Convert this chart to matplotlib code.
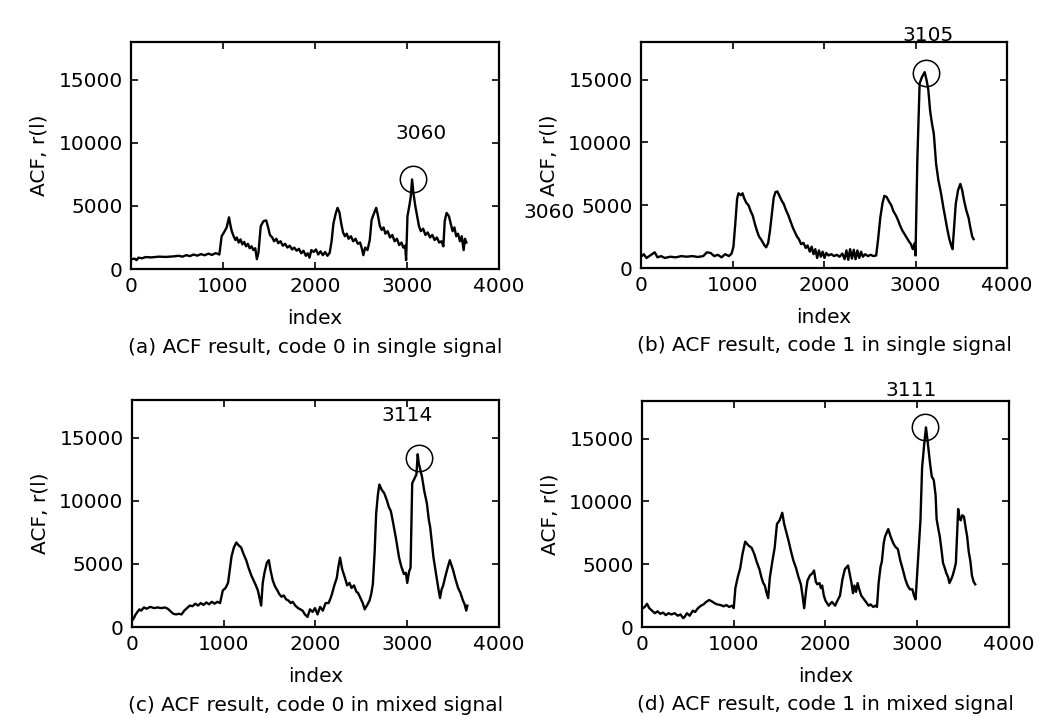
import matplotlib
matplotlib.use("Agg")
import matplotlib.pyplot as plt

# values: (index, ACF)
a_data = [(0, 780), (40, 820), (60, 700), (80, 900), (120, 850), (160, 950), (220, 920), (300, 980),
          (380, 960), (460, 1000), (520, 1050), (560, 980), (600, 1100), (640, 1020), (680, 1150),
          (720, 1060), (760, 1180), (800, 1090), (840, 1220), (880, 1120), (920, 1260), (960, 1150),
          (985, 2600), (1010, 2900), (1040, 3300), (1065, 4100), (1080, 3500), (1095, 3000), (1115, 2600),
          (1135, 2300), (1150, 2500), (1170, 2100), (1190, 2350), (1210, 1950), (1230, 2150), (1250, 1800),
          (1270, 2000), (1290, 1650), (1310, 1800), (1330, 1500), (1350, 1650), (1368, 780), (1385, 1300),
          (1410, 3400), (1440, 3800), (1470, 3850), (1490, 3300), (1510, 2700), (1535, 2500), (1555, 2200),
          (1580, 2400), (1600, 2050), (1625, 2200), (1650, 1850), (1675, 2000), (1700, 1700), (1725, 1850),
          (1750, 1550), (1775, 1700), (1800, 1450), (1825, 1600), (1850, 1250), (1875, 1450), (1900, 1050),
          (1920, 1250), (1940, 900), (1960, 1500), (1985, 1350), (2010, 1550), (2035, 1150), (2060, 1400),
          (2085, 1100), (2110, 1350), (2135, 1050), (2160, 1300), (2180, 2200), (2200, 3600), (2225, 4400),
          (2245, 4850), (2265, 4500), (2285, 3600), (2305, 2900), (2325, 2600), (2345, 2800), (2365, 2400),
          (2390, 2600), (2415, 2200), (2440, 2400), (2465, 2000), (2490, 2100), (2510, 1600), (2525, 1100),
          (2545, 1700), (2570, 1500), (2595, 2300), (2615, 3900), (2640, 4400), (2665, 4850), (2685, 4200),
          (2705, 3400), (2725, 3100), (2745, 3300), (2765, 2800), (2790, 3000), (2815, 2500), (2840, 2700),
          (2865, 2200), (2890, 2400), (2915, 1900), (2940, 2100), (2960, 1700), (2980, 1850), (2990, 700),
          (3005, 4200), (3025, 5000), (3040, 5700), (3055, 7100), (3070, 6000), (3090, 5000), (3110, 4200),
          (3130, 3400), (3150, 3000), (3175, 3200), (3200, 2700), (3225, 2900), (3250, 2500), (3275, 2700),
          (3300, 2300), (3325, 2500), (3350, 2100), (3375, 2200), (3395, 1800), (3410, 3800), (3430, 4450),
          (3455, 4200), (3475, 3600), (3495, 3000), (3515, 3300), (3535, 2600), (3555, 2800), (3575, 2200),
          (3595, 2600), (3615, 1500), (3630, 2400), (3645, 2100)]

b_data = [(0, 900), (30, 1100), (60, 800), (100, 1000), (150, 1250), (180, 850), (220, 950), (260, 800),
          (320, 900), (380, 850), (440, 950), (500, 900), (560, 950), (620, 880), (680, 950), (720, 1250),
          (760, 1200), (800, 950), (840, 1050), (880, 850), (920, 1100), (960, 950), (990, 1150), (1010, 1700),
          (1030, 3500), (1050, 5500), (1065, 5950), (1090, 5800), (1110, 5950), (1125, 5600), (1150, 5200),
          (1175, 5000), (1200, 4500), (1220, 4200), (1245, 3500), (1270, 2900), (1290, 2500), (1310, 2300),
          (1330, 2050), (1350, 1800), (1368, 1650), (1390, 2000), (1410, 3000), (1430, 4300), (1450, 5600),
          (1470, 6050), (1490, 6100), (1510, 5800), (1535, 5400), (1560, 5100), (1585, 4600), (1610, 4200),
          (1635, 3700), (1660, 3200), (1685, 2800), (1705, 2500), (1725, 2300), (1750, 1900), (1775, 2000),
          (1800, 1600), (1820, 1800), (1845, 1300), (1865, 1700), (1885, 1100), (1905, 1500), (1925, 800),
          (1945, 1400), (1965, 900), (1985, 1300), (2005, 800), (2025, 1200), (2050, 1000), (2080, 1100),
          (2110, 950), (2140, 1050), (2170, 900), (2200, 1150), (2225, 700), (2245, 1400), (2265, 650),
          (2285, 1500), (2305, 750), (2325, 1450), (2345, 700), (2365, 1400), (2385, 800), (2405, 1300),
          (2425, 900), (2450, 1100), (2480, 950), (2510, 1050), (2540, 950), (2570, 1000), (2590, 2200),
          (2615, 4000), (2640, 5200), (2660, 5750), (2685, 5650), (2710, 5300), (2735, 5000), (2760, 4500),
          (2785, 4200), (2810, 3800), (2830, 3400), (2855, 3000), (2880, 2700), (2905, 2400), (2930, 2100),
          (2950, 1900), (2970, 1500), (2990, 1950), (3000, 1000), (3020, 8600), (3045, 14700), (3070, 15200),
          (3100, 15600), (3120, 15000), (3140, 14200), (3160, 12500), (3180, 11500), (3200, 10700),
          (3225, 8300), (3250, 7000), (3280, 5900), (3305, 4800), (3330, 3800), (3350, 3000), (3370, 2300),
          (3390, 1800), (3405, 1500), (3420, 3000), (3440, 5100), (3465, 6200), (3490, 6700), (3510, 6200),
          (3530, 5400), (3555, 4600), (3580, 4000), (3600, 3200), (3620, 2500), (3635, 2300)]

c_data = [(0, 500), (20, 700), (40, 1000), (60, 1200), (80, 1400), (100, 1300), (130, 1550), (160, 1450),
          (200, 1600), (240, 1500), (280, 1550), (320, 1500), (360, 1550), (390, 1450), (420, 1250),
          (450, 1050), (480, 1000), (510, 1050), (540, 1000), (570, 1300), (600, 1500), (630, 1700),
          (660, 1650), (690, 1850), (720, 1700), (750, 1900), (780, 1750), (810, 1950), (840, 1800),
          (870, 2000), (900, 1850), (930, 2000), (960, 1900), (990, 2900), (1020, 3100), (1047, 3500),
          (1070, 4800), (1085, 5600), (1110, 6300), (1137, 6700), (1160, 6500), (1190, 6300), (1215, 5800),
          (1245, 5300), (1270, 4700), (1300, 4100), (1325, 3700), (1350, 3300), (1372, 2900), (1390, 2300),
          (1408, 1700), (1425, 3500), (1444, 4300), (1470, 5100), (1491, 5300), (1510, 4500), (1534, 3700),
          (1560, 3200), (1585, 2900), (1606, 2600), (1630, 2400), (1655, 2500), (1679, 2200), (1705, 2100),
          (1730, 1900), (1751, 2000), (1780, 1700), (1810, 1500), (1835, 1400), (1859, 1300), (1885, 1000),
          (1913, 800), (1940, 1400), (1968, 1200), (1995, 1500), (2022, 1000), (2050, 1600), (2080, 1300),
          (2110, 1900), (2143, 1900), (2165, 2300), (2179, 2600), (2205, 3300), (2232, 3900), (2250, 4800),
          (2268, 5500), (2290, 4600), (2321, 3900), (2345, 3300), (2370, 3500), (2393, 3100), (2420, 3300),
          (2445, 2800), (2464, 2700), (2490, 2300), (2515, 1900), (2536, 1400), (2560, 1700), (2589, 2100),
          (2607, 2600), (2625, 3400), (2645, 6000), (2661, 9000), (2680, 10500), (2696, 11300), (2720, 10900),
          (2750, 10600), (2780, 10000), (2800, 9500), (2821, 9200), (2845, 8300), (2875, 7100), (2895, 6200),
          (2911, 5500), (2935, 4800), (2964, 4200), (2985, 4300), (3000, 3500), (3020, 4400), (3036, 4700),
          (3045, 8000), (3054, 11400), (3080, 11800), (3100, 12100), (3114, 13700), (3125, 13000),
          (3145, 12400), (3161, 11900), (3185, 10800), (3214, 9800), (3235, 8500), (3250, 7900), (3270, 6600),
          (3286, 5500), (3305, 4600), (3321, 3900), (3340, 3000), (3357, 2300), (3375, 3000), (3392, 3300),
          (3411, 3900), (3440, 4700), (3464, 5300), (3482, 4900), (3500, 4500), (3525, 3800), (3554, 3100),
          (3580, 2700), (3607, 2100), (3625, 1800), (3643, 1300), (3655, 1700)]

d_data = [(0, 1450), (30, 1600), (55, 1850), (80, 1500), (110, 1300), (140, 1100), (170, 1250), (200, 1050),
          (230, 1150), (260, 950), (290, 1100), (320, 1000), (357, 1100), (390, 900), (420, 1000), (450, 700),
          (464, 800), (490, 1100), (520, 900), (554, 1300), (580, 1200), (610, 1500), (643, 1700), (670, 1800),
          (700, 2000), (732, 2150), (760, 2050), (790, 1900), (820, 1800), (857, 1750), (890, 1650),
          (920, 1750), (950, 1600), (982, 1700), (1000, 1500), (1018, 3100), (1045, 4000), (1071, 4700),
          (1095, 5800), (1125, 6800), (1160, 6500), (1196, 6300), (1225, 5800), (1250, 5200), (1280, 4600),
          (1304, 3900), (1322, 3500), (1339, 3300), (1355, 2800), (1375, 2300), (1393, 3900), (1420, 5200),
          (1446, 6300), (1471, 8200), (1500, 8500), (1529, 9100), (1550, 8200), (1571, 7600), (1600, 6800),
          (1625, 6000), (1650, 5300), (1679, 4700), (1705, 4000), (1732, 3400), (1750, 2500), (1768, 1500),
          (1790, 3000), (1804, 3700), (1830, 4100), (1860, 4300), (1875, 4500), (1895, 3600), (1911, 3400),
          (1935, 3500), (1950, 3100), (1964, 3300), (1982, 2500), (2000, 2100), (2035, 1700), (2070, 2000),
          (2105, 1700), (2130, 2100), (2158, 2500), (2185, 3800), (2211, 4600), (2246, 4900), (2265, 4200),
          (2281, 3600), (2300, 2700), (2315, 3300), (2333, 2800), (2350, 3500), (2368, 3000), (2390, 2500),
          (2421, 2200), (2450, 1900), (2470, 1700), (2491, 1800), (2520, 1600), (2545, 1700), (2561, 1600),
          (2579, 3500), (2600, 4800), (2614, 5200), (2635, 6700), (2649, 7200), (2684, 7800), (2710, 7200),
          (2737, 6700), (2760, 6400), (2789, 6200), (2815, 5300), (2842, 4600), (2870, 3800), (2895, 3300),
          (2920, 3000), (2947, 3000), (2965, 2500), (2982, 2200), (3000, 4300), (3020, 6500), (3035, 8500),
          (3053, 12700), (3075, 14500), (3095, 15900), (3110, 15000), (3123, 14100), (3140, 13000),
          (3158, 12000), (3180, 11700), (3200, 10500), (3211, 8600), (3230, 7800), (3246, 7200), (3265, 6100),
          (3281, 5100), (3300, 4700), (3316, 4300), (3335, 4000), (3351, 3500), (3370, 3800), (3386, 4100),
          (3405, 4600), (3421, 5100), (3435, 7500), (3446, 9400), (3462, 8600), (3474, 8500), (3490, 8900),
          (3509, 8800), (3530, 7800), (3544, 7200), (3561, 6000), (3580, 5200), (3596, 4100), (3615, 3600),
          (3632, 3400)]

captions = ["(a) ACF result, code 0 in single signal",
            "(b) ACF result, code 1 in single signal",
            "(c) ACF result, code 0 in mixed signal",
            "(d) ACF result, code 1 in mixed signal"]
peak_labels = ["3060", "3105", "3114", "3111"]
peak_x = [3070, 3120, 3125, 3080]
peak_y = [7150, 15550, 13400, 15950]
label_x = [3150, 3135, 3000, 2930]
label_y = [10750, 18550, 16800, 18850]

plt.rcParams['font.family'] = ['DejaVu Sans']
plt.rcParams['font.size'] = 14.5

fig = plt.figure(figsize=(10.55, 7.17), dpi=100)
boxes = [[0.1242, 0.6248, 0.3488, 0.3166],
         [0.6076, 0.6262, 0.3469, 0.3152],
         [0.1251, 0.1255, 0.3479, 0.3166],
         [0.6085, 0.1255, 0.3479, 0.3152]]

for i, data in enumerate([a_data, b_data, c_data, d_data]):
    ax = fig.add_axes(boxes[i])
    xs = [p[0] for p in data]
    ys = [p[1] for p in data]
    ax.plot(xs, ys, color='black', lw=1.7)
    # circle round the peak
    ax.plot(peak_x[i], peak_y[i], 'o', ms=19, mfc='none', mec='black', mew=1.1, clip_on=False)
    ax.text(label_x[i], label_y[i], peak_labels[i], ha='center', va='center', clip_on=False)
    ax.set_xlim(0, 4000)
    ax.set_ylim(0, 18000)
    ax.set_xticks([0, 1000, 2000, 3000, 4000])
    ax.set_yticks([0, 5000, 10000, 15000])
    ax.tick_params(direction='in', top=True, right=True, length=5, width=1.2, pad=6)
    for s in ax.spines.values():
        s.set_linewidth(1.6)
    ax.set_xlabel('index')
    ax.xaxis.set_label_coords(0.5, -0.175)
    ax.set_ylabel('ACF, r(l)')
    ax.yaxis.set_label_coords(-0.225, 0.5)
    ax.text(0.5, -0.345, captions[i], transform=ax.transAxes, ha='center', va='center')

# stray label left over in panel (b)
fig.axes[1].text(-1000, 4400, '3060', ha='center', va='center', clip_on=False)

fig.savefig('out.png', dpi=100)
